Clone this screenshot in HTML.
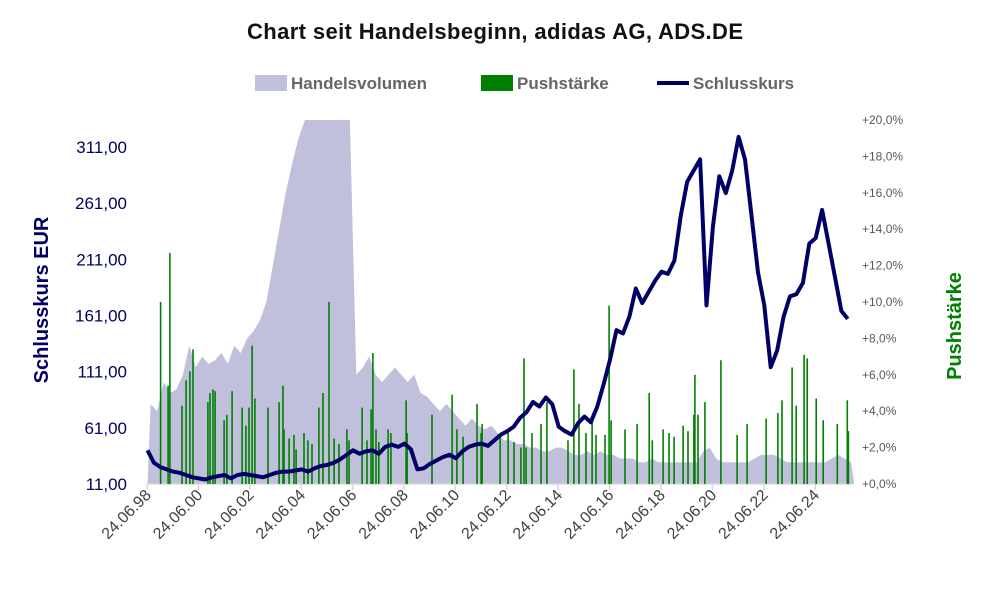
<!DOCTYPE html>
<html><head><meta charset="utf-8"><style>
html,body{margin:0;padding:0;background:#fff;}
svg{display:block;font-family:"Liberation Sans",sans-serif;}
</style></head><body>
<svg id="chart" width="991" height="593" viewBox="0 0 991 593" xmlns="http://www.w3.org/2000/svg">
<text x="495" y="39" text-anchor="middle" font-size="22" font-weight="bold" fill="#111" textLength="496">Chart seit Handelsbeginn, adidas AG, ADS.DE</text>
<g>
<rect x="255" y="75" width="32" height="16" fill="#c0c0dc"/>
<text x="291" y="89" font-size="17" font-weight="bold" fill="#666">Handelsvolumen</text>
<rect x="481" y="75" width="32" height="16" fill="#008000"/>
<text x="517" y="89" font-size="17" font-weight="bold" fill="#666">Pushstärke</text>
<line x1="657" y1="83" x2="689" y2="83" stroke="#000066" stroke-width="4"/>
<text x="693" y="89" font-size="17" font-weight="bold" fill="#666">Schlusskurs</text>
</g>
<text transform="translate(48,300) rotate(-90)" text-anchor="middle" font-size="20" font-weight="bold" fill="#000066">Schlusskurs EUR</text>
<text transform="translate(961,326) rotate(-90)" text-anchor="middle" font-size="20" font-weight="bold" fill="#008000">Pushstärke</text>
<g id="plot"></g>
</svg>
<script>
const priceStart = 1998.5;
const priceStep = 0.25;
const priceValues = [41,30,26,24,22,21,19,17,16,15,17,18,19,16,19,20,19,18,17,19,21,22,22,23,24,22,25,27,28,30,33,37,41,38,40,41,38,44,46,44,47,42,24,25,29,32,35,37,34,40,44,46,47,45,50,55,58,62,70,75,84,80,88,82,62,58,55,65,71,66,80,100,122,148,145,160,185,172,182,192,200,198,210,250,280,290,300,170,240,285,270,290,320,300,250,200,170,115,130,160,178,180,190,225,230,255,225,195,165,158];
const volumeValues = [22,20,28,25,26,30,38,32,35,33,34,36,33,38,36,40,42,45,50,60,70,80,88,95,100,100,100,100,100,100,100,100,30,32,35,30,28,30,32,30,28,30,25,24,22,20,22,20,18,16,18,16,15,16,14,12,12,11,11,10,10,9,9,10,10,9,8,8,9,8,9,8,8,7,7,7,6,6,7,6,6,6,6,6,6,6,9,10,7,6,6,6,6,6,7,8,8,8,7,6,6,6,6,6,6,6,7,8,7,6];
const pushDates = [1999.01,1999.30,1999.37,1999.84,2000.00,2000.15,2000.27,2000.85,2000.93,2001.05,2001.13,2001.48,2001.59,2001.79,2002.18,2002.33,2002.45,2002.57,2002.68,2003.19,2003.62,2003.77,2003.81,2004.01,2004.20,2004.28,2004.59,2004.74,2004.90,2005.17,2005.33,2005.56,2005.76,2005.95,2006.26,2006.34,2006.85,2007.04,2007.20,2007.27,2007.39,2007.50,2007.86,2007.97,2008.56,2008.60,2009.57,2010.35,2010.54,2010.78,2011.32,2011.48,2011.52,2012.22,2012.53,2012.76,2013.03,2013.15,2013.23,2013.46,2013.81,2014.04,2014.86,2015.09,2015.29,2015.56,2015.80,2015.95,2016.30,2016.46,2016.54,2017.08,2017.55,2018.02,2018.14,2018.56,2018.79,2018.99,2019.34,2019.53,2019.76,2019.80,2019.92,2020.19,2020.81,2021.44,2021.83,2022.57,2023.03,2023.19,2023.58,2023.74,2024.05,2024.17,2024.52,2024.79,2025.34,2025.73,2025.77];
const pushValues = [10.0,5.4,12.7,4.3,5.7,6.2,7.4,4.5,5.0,5.2,5.1,3.5,3.8,5.1,4.2,3.2,4.2,7.6,4.7,4.2,4.5,5.4,3.0,2.5,2.7,1.9,2.8,2.4,2.2,4.2,5.0,10.0,2.5,2.2,3.0,2.4,4.2,2.4,4.1,7.2,3.0,2.3,3.0,2.8,4.6,2.8,3.8,4.9,3.0,2.6,4.4,2.8,3.3,2.7,2.8,2.3,2.0,6.9,2.0,2.8,3.3,4.5,2.4,6.3,4.4,2.8,3.6,2.7,2.7,9.8,3.5,3.0,3.3,5.0,2.4,3.0,2.8,2.6,3.2,2.9,3.8,6.0,3.8,4.5,6.8,2.7,3.3,3.6,3.9,4.6,6.4,4.3,7.1,6.9,4.7,3.5,3.3,4.6,2.9];
const leftTicks = [11,61,111,161,211,261,311];
const leftTickLabels = ["11,00","61,00","111,00","161,00","211,00","261,00","311,00"];
const rightTicks = [0,2,4,6,8,10,12,14,16,18,20];
const rightTickLabels = ["+0,0%","+2,0%","+4,0%","+6,0%","+8,0%","+10,0%","+12,0%","+14,0%","+16,0%","+18,0%","+20,0%"];
const xTickYears = [1998.48,2000.48,2002.48,2004.48,2006.48,2008.48,2010.48,2012.48,2014.48,2016.48,2018.48,2020.48,2022.48,2024.48];
const xTickLabels = ["24.06.98","24.06.00","24.06.02","24.06.04","24.06.06","24.06.08","24.06.10","24.06.12","24.06.14","24.06.16","24.06.18","24.06.20","24.06.22","24.06.24"];

const NS = "http://www.w3.org/2000/svg";
const plot = document.getElementById('plot');
const X0 = 147, Y0 = 484, YT = 120;
const xs = y => X0 + (y - 1998.48) * 25.7;
const yl = v => Y0 - (v - 11) * (337 / 300);
const yr = p => Y0 - p * (Y0 - YT) / 20;
const yv = v => Y0 - v / 100 * (Y0 - YT);
function mk(tag, attrs){const e=document.createElementNS(NS,tag);for(const k in attrs)e.setAttribute(k,attrs[k]);return e;}

// volume area
let d = "M" + xs(priceStart) + "," + Y0;
volumeValues.forEach((v,i)=>{const t=priceStart+i*priceStep;d+=" L"+xs(t+priceStep/2).toFixed(1)+","+yv(v).toFixed(1);});
d += " L" + xs(priceStart + volumeValues.length*priceStep) + "," + Y0 + " Z";
const vol = mk('path',{d:d,fill:'#c0c0dc'});


plot.appendChild(vol);

// axis line
const ax = mk('line',{x1:X0,y1:Y0,x2:852,y2:Y0,stroke:'#d9d9d9','stroke-width':1.5});


plot.appendChild(ax);

// push bars
pushDates.forEach((t,i)=>{
  const b = mk('rect',{x:(xs(t)-0.8).toFixed(1),y:yr(pushValues[i]).toFixed(1),width:1.6,height:(Y0-yr(pushValues[i])).toFixed(1),fill:'#008000'});
  
  
  plot.appendChild(b);
});

// price line
const pts = priceValues.map((v,i)=>xs(priceStart+i*priceStep).toFixed(1)+","+yl(v).toFixed(1)).join(" ");
const pl = mk('polyline',{points:pts,fill:'none',stroke:'#000066','stroke-width':4,'stroke-linejoin':'round'});


plot.appendChild(pl);

// left ticks
leftTicks.forEach((v,i)=>{
  const t = mk('text',{x:127,y:(yl(v)+6).toFixed(1),'text-anchor':'end','font-size':17,fill:'#000066'});
  t.textContent = leftTickLabels[i];
  
  
  plot.appendChild(t);
});
// right ticks
rightTicks.forEach((p,i)=>{
  const t = mk('text',{x:862,y:(yr(p)+4).toFixed(1),'font-size':12,fill:'#595959'});
  t.textContent = rightTickLabels[i];
  
  
  plot.appendChild(t);
});
// x ticks
xTickYears.forEach((yr_,i)=>{
  const x = xs(yr_);
  const tk = mk('line',{x1:x,y1:Y0,x2:x,y2:Y0+6,stroke:'#d9d9d9','stroke-width':1.5});
  
  
  plot.appendChild(tk);
  const t = mk('text',{transform:'translate('+(x+5)+','+(Y0+12)+') rotate(-45)','text-anchor':'end','font-size':16,fill:'#404040'});
  t.textContent = xTickLabels[i];
  
  
  plot.appendChild(t);
});
</script>
</body></html>
